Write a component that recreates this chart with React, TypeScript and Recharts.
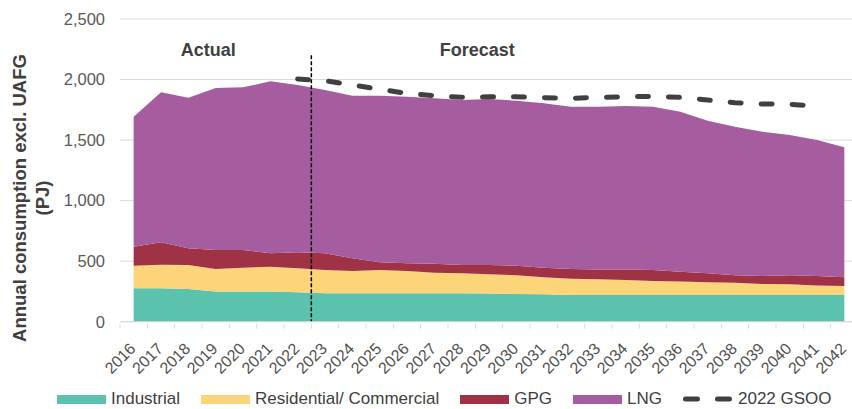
import React from "react";
import {
  ComposedChart,
  Area,
  Line,
  XAxis,
  YAxis,
  CartesianGrid,
  ReferenceLine,
} from "recharts";

// values in PJ
const years = [
  "2016", "2017", "2018", "2019", "2020", "2021", "2022", "2023", "2024",
  "2025", "2026", "2027", "2028", "2029", "2030", "2031", "2032", "2033",
  "2034", "2035", "2036", "2037", "2038", "2039", "2040", "2041", "2042",
];
const industrial = [
  276, 276, 270, 250, 250, 250, 243, 234, 234, 234, 234, 234, 234, 232,
  229, 226, 220, 220, 220, 220, 220, 220, 220, 220, 220, 220, 220,
];
const residential = [
  186, 194, 198, 185, 196, 204, 198, 193, 185, 193, 185, 171, 166, 159,
  154, 141, 135, 130, 124, 116, 111, 105, 102, 91, 89, 80, 75,
];
const gpg = [
  157, 186, 138, 157, 146, 111, 132, 138, 105, 63, 63, 73, 68, 77, 79, 79,
  80, 82, 88, 91, 82, 75, 61, 67, 74, 78, 72,
];
const lng = [
  1074, 1239, 1244, 1338, 1344, 1420, 1382, 1349, 1343, 1377, 1376, 1367,
  1363, 1371, 1363, 1358, 1341, 1344, 1349, 1349, 1321, 1260, 1228, 1191,
  1159, 1122, 1073,
];
const gsoo2022 = [
  null, null, null, null, null, null, 2005, 1990, 1955, 1919, 1886, 1867,
  1853, 1858, 1858, 1850, 1845, 1853, 1858, 1861, 1853, 1831, 1809, 1798,
  1796, 1781, null,
];
const yTicks = [0, 500, 1000, 1500, 2000, 2500];

const data = years.map((year, i) => ({
  year,
  industrial: industrial[i],
  residential: residential[i],
  gpg: gpg[i],
  lng: lng[i],
  gsoo: gsoo2022[i],
}));

const COLORS = {
  industrial: "#5BC2AE",
  residential: "#FCD57A",
  gpg: "#A03245",
  lng: "#A55DA0",
  gsoo: "#404040",
};

const FONT = "'Liberation Sans', Arial, sans-serif";

function YearTick({ x, y, payload }: any) {
  const half = payload && payload.offset ? payload.offset : 13.67;
  const tx = x + 3;
  const ty = y + 26;
  return (
    <g>
      <line x1={x - half} x2={x - half} y1={y} y2={y + 5} stroke="#D9D9D9" />
      <text
        x={tx}
        y={ty}
        transform={`rotate(-45 ${tx} ${ty})`}
        textAnchor="end"
        fill="#505050"
        fontSize={16}
        fontFamily={FONT}
      >
        {payload.value}
      </text>
    </g>
  );
}

function YAxisTitle() {
  return (
    <g fontFamily={FONT} fontWeight="bold" fontSize={18.5} fill="#404040">
      <text x={26} y={198} transform="rotate(-90 26 198)" textAnchor="middle">
        Annual consumption excl. UAFG
      </text>
      <text x={49} y={198} transform="rotate(-90 49 198)" textAnchor="middle">
        (PJ)
      </text>
    </g>
  );
}

function PeriodLabels({ viewBox }: any) {
  if (!viewBox) return null;
  const x = viewBox.x;
  const y = viewBox.y + 1;
  return (
    <g fontFamily={FONT} fontWeight="bold" fontSize={18} fill="#404040">
      <text x={x - 103} y={y} textAnchor="middle">
        Actual
      </text>
      <text x={x + 166} y={y} textAnchor="middle">
        Forecast
      </text>
    </g>
  );
}

function LegendRow() {
  const items = [
    { name: "Industrial", color: COLORS.industrial },
    { name: "Residential/ Commercial", color: COLORS.residential },
    { name: "GPG", color: COLORS.gpg },
    { name: "LNG", color: COLORS.lng },
  ];
  return (
    <div
      style={{
        position: "absolute",
        left: 57,
        top: 389,
        height: 20,
        display: "flex",
        alignItems: "center",
        gap: 21,
        fontFamily: FONT,
        fontSize: 17,
        color: "#404040",
        whiteSpace: "nowrap",
      }}
    >
      {items.map((it) => (
        <div key={it.name} style={{ display: "flex", alignItems: "center", gap: 5 }}>
          <div style={{ width: 49, height: 9, backgroundColor: it.color }} />
          <span>{it.name}</span>
        </div>
      ))}
      <div style={{ display: "flex", alignItems: "center", gap: 5 }}>
        <svg width={50} height={10}>
          <line
            x1={2.5}
            x2={50}
            y1={5}
            y2={5}
            stroke={COLORS.gsoo}
            strokeWidth={5}
            strokeDasharray="12 20"
            strokeLinecap="round"
          />
        </svg>
        <span>2022 GSOO</span>
      </div>
    </div>
  );
}

export default function App() {
  return (
    <div
      style={{
        position: "fixed",
        left: 0,
        top: 0,
        width: 852,
        height: 409,
        overflow: "hidden",
        background: "#fff",
      }}
    >
      <ComposedChart
        width={858}
        height={409}
        data={data}
        margin={{ top: 19, right: 0, left: 0, bottom: 0 }}
      >
        <CartesianGrid vertical={false} stroke="#D9D9D9" />
        <XAxis
          dataKey="year"
          scale="band"
          interval={0}
          height={87.3}
          tickSize={0}
          tickLine={false}
          axisLine={{ stroke: "#D9D9D9" }}
          tick={<YearTick />}
        />
        <YAxis
          width={120}
          domain={[0, 2500]}
          ticks={yTicks}
          axisLine={false}
          tickLine={false}
          tickSize={15}
          tickMargin={0}
          tick={{ fill: "#595959", fontSize: 16.5, fontFamily: FONT }}
          tickFormatter={(v: number) => v.toLocaleString("en-US")}
          label={{ content: () => <YAxisTitle /> }}
        />
        <Area
          dataKey="industrial"
          name="Industrial"
          stackId="1"
          type="linear"
          stroke="none"
          fill={COLORS.industrial}
          fillOpacity={1}
          isAnimationActive={false}
        />
        <Area
          dataKey="residential"
          name="Residential/ Commercial"
          stackId="1"
          type="linear"
          stroke="none"
          fill={COLORS.residential}
          fillOpacity={1}
          isAnimationActive={false}
        />
        <Area
          dataKey="gpg"
          name="GPG"
          stackId="1"
          type="linear"
          stroke="none"
          fill={COLORS.gpg}
          fillOpacity={1}
          isAnimationActive={false}
        />
        <Area
          dataKey="lng"
          name="LNG"
          stackId="1"
          type="linear"
          stroke="none"
          fill={COLORS.lng}
          fillOpacity={1}
          isAnimationActive={false}
        />
        <ReferenceLine
          segment={[
            { x: "2023", y: 2200 },
            { x: "2023", y: 0 },
          ]}
          position="start"
          stroke="#000"
          strokeWidth={1.5}
          strokeDasharray="4 2"
          label={<PeriodLabels />}
        />
        <Line
          dataKey="gsoo"
          name="2022 GSOO"
          type="linear"
          stroke={COLORS.gsoo}
          strokeWidth={5}
          strokeDasharray="11 20"
          strokeLinecap="round"
          dot={false}
          activeDot={false}
          isAnimationActive={false}
        />
      </ComposedChart>
      <LegendRow />
    </div>
  );
}
